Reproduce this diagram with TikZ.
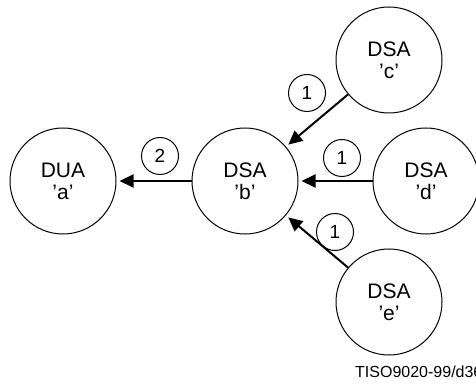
\documentclass[tikz,border=0pt]{standalone}
\usepackage{fontspec}
\setmainfont{Liberation Sans}
\usetikzlibrary{arrows.meta}
\tikzset{
    agent/.style = {draw, circle, line width = 1pt, minimum size = 106pt, inner sep = 0pt,
                    align = center, font = \fontsize{21}{22}\selectfont},
    tag/.style   = {draw, circle, line width = 1pt, minimum size = 37pt, inner sep = 0pt,
                    font = \fontsize{19}{21}\selectfont},
    flow/.style  = {line width = 2pt, shorten > = 3pt, -{Triangle[length = 14pt, width = 13pt]}}
}
\begin{document}
\begin{tikzpicture}[x = 1pt, y = 1pt]
        \useasboundingbox (0, 0) rectangle (476, 383);
        \node[agent] (a) at (63, 202) {DUA\\'a'};
        \node[agent] (b) at (245, 202) {DSA\\'b'};
        \node[agent] (c) at (389, 323) {DSA\\'c'};
        \node[agent] (d) at (426, 202) {DSA\\'d'};
        \node[agent] (e) at (389, 81) {DSA\\'e'};
        \draw[flow] (b) -- (a);
        \foreach \s in {c, d, e}{
            \draw[flow] (\s) -- (b);
        }
        \node[tag] (t2) at (160, 227) {2};
        \node[tag] (tc) at (307, 290) {1};
        \node[tag] (td) at (342, 225) {1};
        \node[tag] (te) at (335, 151) {1};
        \node[anchor = base west, inner sep = 0pt, font = \fontsize{16}{18}\selectfont] (ref) at (355, 6) {TISO9020-99/d36};
    \end{tikzpicture}
\end{document}
